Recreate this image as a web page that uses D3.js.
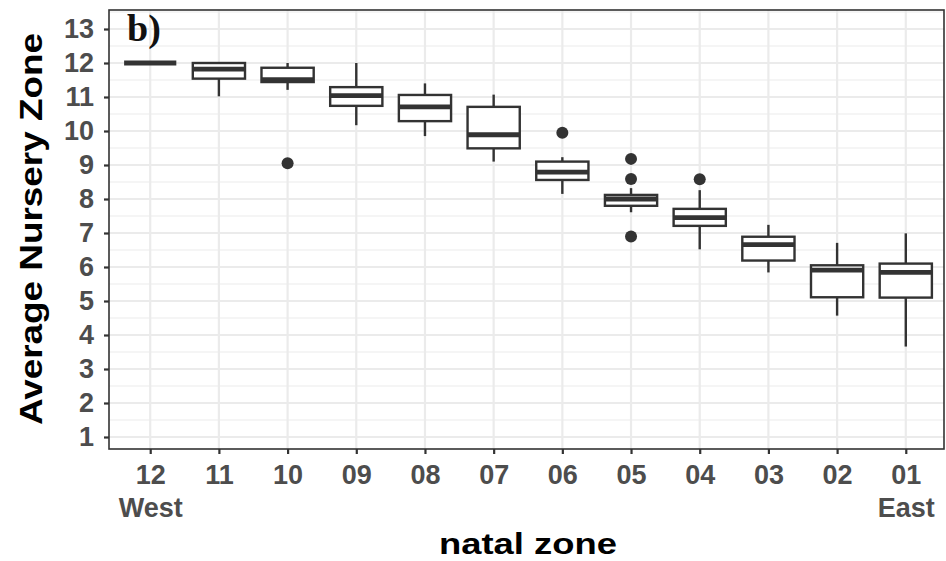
<!DOCTYPE html>
<html><head><meta charset="utf-8">
<script src="https://cdn.jsdelivr.net/npm/d3@7"></script>
<style>body{margin:0;background:#fff}</style>
</head><body>
<svg id="chart" width="946" height="561"></svg>
<script>
// ---- data ----
const zones = ["12","11","10","09","08","07","06","05","04","03","02","01"];
const xTickLabels = ["12\nWest","11","10","09","08","07","06","05","04","03","02","01\nEast"];
const whiskerLow  = [12.0, 11.02, 11.21, 10.17, 9.85, 9.10, 8.15, 7.61, 6.52, 5.84, 4.57, 3.66];
const q1          = [12.0, 11.54, 11.44, 10.74, 10.29, 9.49, 8.56, 7.80, 7.21, 6.19, 5.11, 5.10];
const median      = [12.0, 11.82, 11.51, 11.04, 10.71, 9.89, 8.79, 8.00, 7.45, 6.66, 5.91, 5.84];
const q3          = [12.0, 12.0, 11.86, 11.29, 11.06, 10.71, 9.10, 8.12, 7.71, 6.89, 6.05, 6.10];
const whiskerHigh = [12.0, 12.0, 12.0, 12.0, 11.40, 11.07, 9.23, 8.32, 8.26, 7.24, 6.71, 6.99];
const outliers    = [[], [], [9.05], [], [], [], [9.95], [9.18, 8.59, 6.90], [8.58], [], [], []];
const yTicks = [1,2,3,4,5,6,7,8,9,10,11,12,13];
const yMinor = [1.5,2.5,3.5,4.5,5.5,6.5,7.5,8.5,9.5,10.5,11.5,12.5,13.5];

// ---- layout ----
const svg = d3.select("#chart");
const P = {left:109, right:944, top:10, bottom:449};
const x = d3.scalePoint().domain(zones).range([109, 947]).padding(0.6);
const y = d3.scaleLinear().domain([1, 13]).range([437, 29]);
const boxW = x.step() * 0.76;
const dark = "#333333", grid = "#EBEBEB", tickText = "#4D4D4D";

svg.append("rect").attr("x",0).attr("y",0).attr("width",946).attr("height",561).attr("fill","#fff");

const gGrid = svg.append("g");
gGrid.selectAll(".minor").data(yMinor.filter(v => y(v) > P.top && y(v) < P.bottom)).join("line")
  .attr("x1",P.left).attr("x2",P.right).attr("y1",d=>y(d)).attr("y2",d=>y(d))
  .attr("stroke",grid).attr("stroke-width",1.1);
gGrid.selectAll(".major").data(yTicks).join("line")
  .attr("x1",P.left).attr("x2",P.right).attr("y1",d=>y(d)).attr("y2",d=>y(d))
  .attr("stroke",grid).attr("stroke-width",2.2);
gGrid.selectAll(".vmajor").data(zones).join("line")
  .attr("x1",d=>x(d)).attr("x2",d=>x(d)).attr("y1",P.top).attr("y2",P.bottom)
  .attr("stroke",grid).attr("stroke-width",2.2);

// ---- boxes ----
const gBox = svg.append("g");
zones.forEach((z, i) => {
  const cx = x(z);
  const g = gBox.append("g");
  g.append("line").attr("x1",cx).attr("x2",cx).attr("y1",y(whiskerLow[i])).attr("y2",y(q1[i]))
    .attr("stroke",dark).attr("stroke-width",2.4);
  g.append("line").attr("x1",cx).attr("x2",cx).attr("y1",y(q3[i])).attr("y2",y(whiskerHigh[i]))
    .attr("stroke",dark).attr("stroke-width",2.4);
  g.append("rect").attr("x",cx-boxW/2).attr("width",boxW)
    .attr("y",y(q3[i])).attr("height",Math.max(0,y(q1[i])-y(q3[i])))
    .attr("fill","#fff").attr("stroke",dark).attr("stroke-width",2.4);
  g.append("line").attr("x1",cx-boxW/2).attr("x2",cx+boxW/2).attr("y1",y(median[i])).attr("y2",y(median[i]))
    .attr("stroke",dark).attr("stroke-width",4.8);
  g.selectAll("circle").data(outliers[i]).join("circle")
    .attr("cx",cx).attr("cy",d=>y(d)).attr("r",6).attr("fill",dark);
});

// ---- panel border ----
svg.append("rect").attr("x",P.left).attr("y",P.top).attr("width",P.right-P.left).attr("height",P.bottom-P.top)
  .attr("fill","none").attr("stroke",dark).attr("stroke-width",1.6);

// ---- axes ----
const yAxis = svg.append("g").attr("transform",`translate(${P.left},0)`)
  .call(d3.axisLeft(y).tickValues(yTicks).tickSize(5).tickPadding(10).tickFormat(d3.format("d")));
yAxis.select(".domain").remove();
yAxis.selectAll(".tick line").attr("stroke",dark).attr("stroke-width",2.2);
yAxis.selectAll(".tick text").attr("fill",tickText)
  .style("font-family","'Liberation Sans', Arial, sans-serif").style("font-weight","bold").style("font-size","27px");

const xAxis = svg.append("g").attr("transform",`translate(0,${P.bottom})`)
  .call(d3.axisBottom(x).tickSize(5).tickPadding(11).tickFormat(()=>""));
xAxis.select(".domain").remove();
xAxis.selectAll(".tick line").attr("stroke",dark).attr("stroke-width",2.2);
xAxis.selectAll(".tick text").each(function(d, i) {
  const t = d3.select(this).attr("fill",tickText)
    .style("font-family","'Liberation Sans', Arial, sans-serif").style("font-weight","bold").style("font-size","27px");
  xTickLabels[i].split("\n").forEach((p, k) => {
    t.append("tspan").attr("x",0).attr("dy", k === 0 ? null : "1.22em").text(p);
  });
});

// ---- titles ----
svg.append("text").attr("x",528).attr("y",554).attr("text-anchor","middle")
  .attr("textLength",178).attr("lengthAdjust","spacingAndGlyphs")
  .style("font-family","'Liberation Sans', Arial, sans-serif").style("font-weight","bold").style("font-size","30px")
  .attr("fill","#000").text("natal zone");
svg.append("text").attr("transform","translate(42,229) rotate(-90)").attr("text-anchor","middle")
  .attr("textLength",392).attr("lengthAdjust","spacingAndGlyphs")
  .style("font-family","'Liberation Sans', Arial, sans-serif").style("font-weight","bold").style("font-size","32px")
  .attr("fill","#000").text("Average Nursery Zone");

svg.append("text").attr("x",127).attr("y",41)
  .style("font-family","'Liberation Serif', 'Times New Roman', serif").style("font-weight","bold").style("font-size","38px")
  .attr("fill","#111").text("b)");
</script>
</body></html>
